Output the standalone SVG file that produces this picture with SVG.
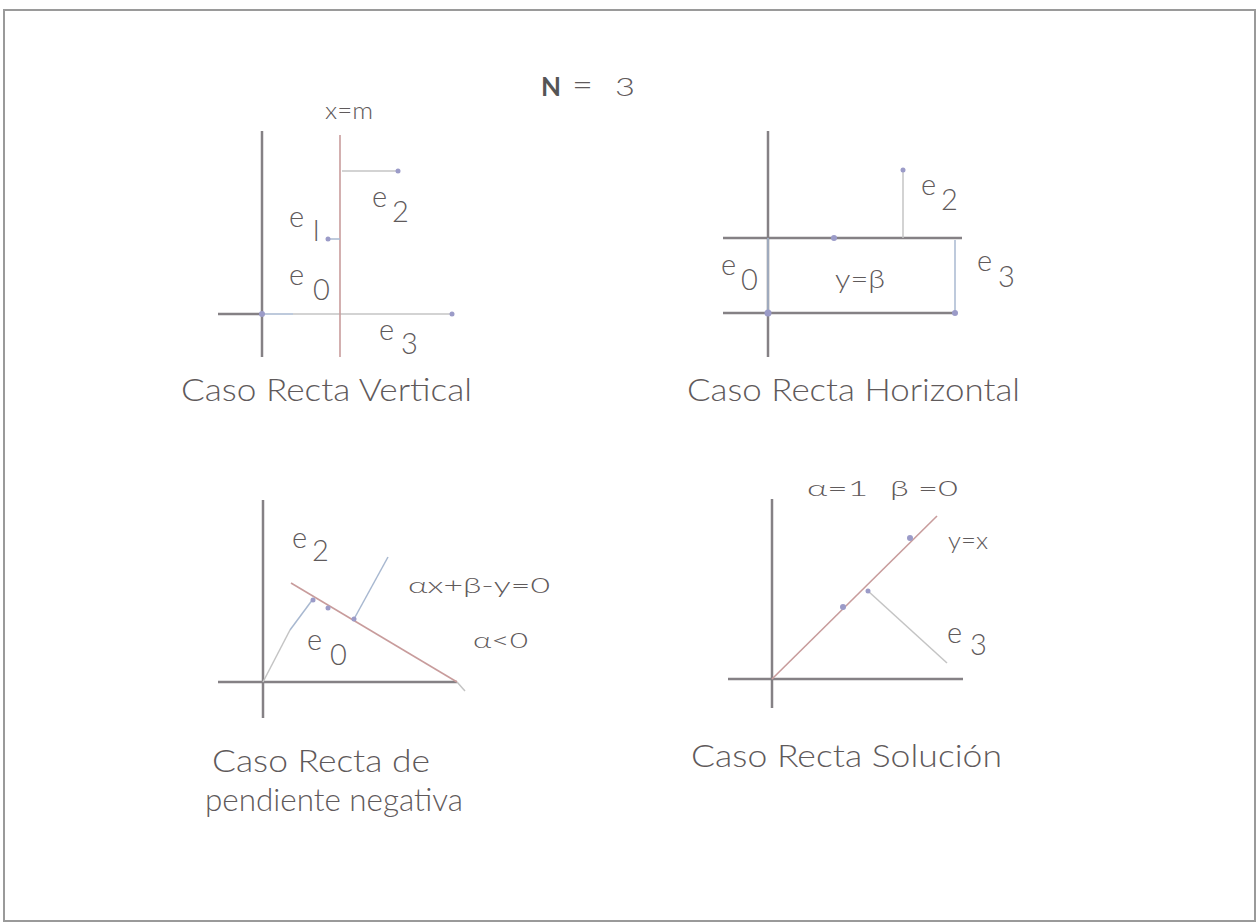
<svg xmlns="http://www.w3.org/2000/svg" width="1259" height="924" viewBox="0 0 1259 924">
<style>
text{font-family:Lato,"Liberation Sans",Arial,sans-serif;font-weight:300;fill:#5f5a5b}
.cap{font-size:32px}
.e{font-size:29px}
.lbl{font-size:22px}
.axis{stroke:#858185;stroke-width:2.5;fill:none}
.red{stroke:#c89c9c;stroke-width:1.6;fill:none}
.blue{stroke:#a8b8d0;stroke-width:1.5;fill:none}
.grey{stroke:#c4c4c4;stroke-width:1.5;fill:none}
.dot{fill:#9b9bc8}
</style>
<rect x="4" y="10" width="1251" height="911" fill="#fff" stroke="#9a9a9a" stroke-width="2"/>
<text x="541" y="96" font-size="26"><tspan font-weight="bold" fill="#555">N</tspan></text>
<text x="572" y="96" font-size="34" textLength="21" lengthAdjust="spacingAndGlyphs">=</text>
<text x="615" y="96" font-size="26" textLength="20" lengthAdjust="spacingAndGlyphs">3</text>

<g id="connectors">
  <line class="axis" x1="262" y1="131" x2="262" y2="357" stroke-width="3"/>
  <line class="axis" x1="218" y1="314" x2="262" y2="314" stroke-width="3"/>
  <line class="blue" x1="262" y1="314" x2="293" y2="314" stroke="#8fa3d6"/>
  <line class="grey" x1="293" y1="314" x2="452" y2="314"/>
  <line class="red" x1="340" y1="135" x2="340" y2="357"/>
  <line class="grey" x1="342" y1="171" x2="398" y2="171" stroke="#b9c4c8"/>
  <line class="blue" x1="328" y1="239" x2="340" y2="239"/>
  <line class="axis" x1="768" y1="131" x2="768" y2="357"/>
  <line class="axis" x1="723" y1="313" x2="955" y2="313" stroke="#7f7b80"/>
  <line class="axis" x1="723" y1="238" x2="962" y2="238" stroke-width="2" stroke="#9a979a"/>
  <line class="grey" x1="903" y1="170" x2="903" y2="238"/>
  <line class="blue" x1="955" y1="240" x2="955" y2="313"/>
  <line class="blue" x1="768" y1="238" x2="768" y2="313" stroke="#c6d2e4"/>
  <line class="axis" x1="263" y1="500" x2="263" y2="718"/>
  <line class="axis" x1="218" y1="682" x2="457" y2="682"/>
  <line class="grey" x1="457" y1="682" x2="465" y2="691" stroke="#d8d8d8"/>
  <line class="red" x1="291" y1="583" x2="457" y2="682"/>
  <line class="grey" x1="263" y1="682" x2="290" y2="630"/>
  <line class="blue" x1="290" y1="630" x2="313" y2="599"/>
  <line class="blue" x1="388" y1="557" x2="354" y2="619"/>
  <line class="axis" x1="772" y1="499" x2="772" y2="708"/>
  <line class="axis" x1="728" y1="679" x2="963" y2="679"/>
  <line class="red" x1="772" y1="679" x2="937" y2="516"/>
  <line class="grey" x1="868" y1="591" x2="947" y2="663"/>
</g>

<g id="dots">
  <circle class="dot" cx="262" cy="314" r="3"/>
  <circle class="dot" cx="452" cy="314" r="2.5"/>
  <circle class="dot" cx="398" cy="171" r="2.5"/>
  <circle class="dot" cx="328" cy="239" r="2.5"/>
  <circle class="dot" cx="768" cy="313" r="3.5" fill="#8a8fa8"/>
  <circle class="dot" cx="955" cy="313" r="3" fill="#8a8fa8"/>
  <circle class="dot" cx="834" cy="238" r="3" fill="#a8a8b8"/>
  <circle class="dot" cx="903" cy="170" r="2.5"/>
  <circle class="dot" cx="313" cy="600" r="2.5" fill="#a8c0e0"/>
  <circle class="dot" cx="354" cy="619" r="2.5" fill="#a8c0e0"/>
  <circle class="dot" cx="328" cy="608" r="2.5"/>
  <circle class="dot" cx="910" cy="538" r="3"/>
  <circle class="dot" cx="843" cy="607" r="3"/>
  <circle class="dot" cx="868" cy="591" r="2.5" fill="#a8c8e8"/>
</g>

<g id="panel-vertical">
  <text x="325" y="119" font-size="24" textLength="48" lengthAdjust="spacingAndGlyphs">x=m</text>
  <text class="e" x="289" y="227">e</text><text class="e" x="313" y="241">l</text>
  <text class="e" x="289" y="285">e</text><text class="e" x="313" y="300">0</text>
  <text class="e" x="372" y="207">e</text><text class="e" x="392" y="222">2</text>
  <text class="e" x="379" y="340">e</text><text class="e" x="401" y="354">3</text>
  <text class="cap" x="181" y="401" textLength="291" lengthAdjust="spacingAndGlyphs">Caso Recta Vertical</text>
</g>

<g id="panel-horizontal">
  <text class="e" x="721" y="275">e</text><text class="e" x="741" y="290">0</text>
  <text x="835" y="288" font-size="25" textLength="50" lengthAdjust="spacingAndGlyphs">y=β</text>
  <text class="e" x="921" y="195">e</text><text class="e" x="941" y="210">2</text>
  <text class="e" x="977" y="271">e</text><text class="e" x="998" y="287">3</text>
  <text class="cap" x="687" y="401" textLength="333" lengthAdjust="spacingAndGlyphs">Caso Recta Horizontal</text>
</g>

<g id="panel-negativa">
  <text class="e" x="292" y="548">e</text><text class="e" x="312" y="561">2</text>
  <text class="lbl" x="408" y="593" textLength="142" lengthAdjust="spacingAndGlyphs">αx+β-y=0</text>
  <text class="e" x="307" y="650">e</text><text class="e" x="330" y="665">0</text>
  <text class="lbl" x="473" y="648" textLength="55" lengthAdjust="spacingAndGlyphs">α&lt;0</text>
  <text class="cap" x="212" y="772" textLength="218" lengthAdjust="spacingAndGlyphs">Caso Recta de</text>
  <text class="cap" x="205" y="811" textLength="258" lengthAdjust="spacingAndGlyphs">pendiente negativa</text>
</g>

<g id="panel-solucion">
  <text class="lbl" x="807" y="496" textLength="61" lengthAdjust="spacingAndGlyphs">α=1</text>
  <text class="lbl" x="890" y="496" textLength="68" lengthAdjust="spacingAndGlyphs">β =0</text>
  <text x="948" y="549" font-size="23" textLength="40" lengthAdjust="spacingAndGlyphs">y=x</text>
  <text class="e" x="947" y="643">e</text><text class="e" x="970" y="655">3</text>
  <text class="cap" x="691" y="767" textLength="311" lengthAdjust="spacingAndGlyphs">Caso Recta Solución</text>
</g>
</svg>
